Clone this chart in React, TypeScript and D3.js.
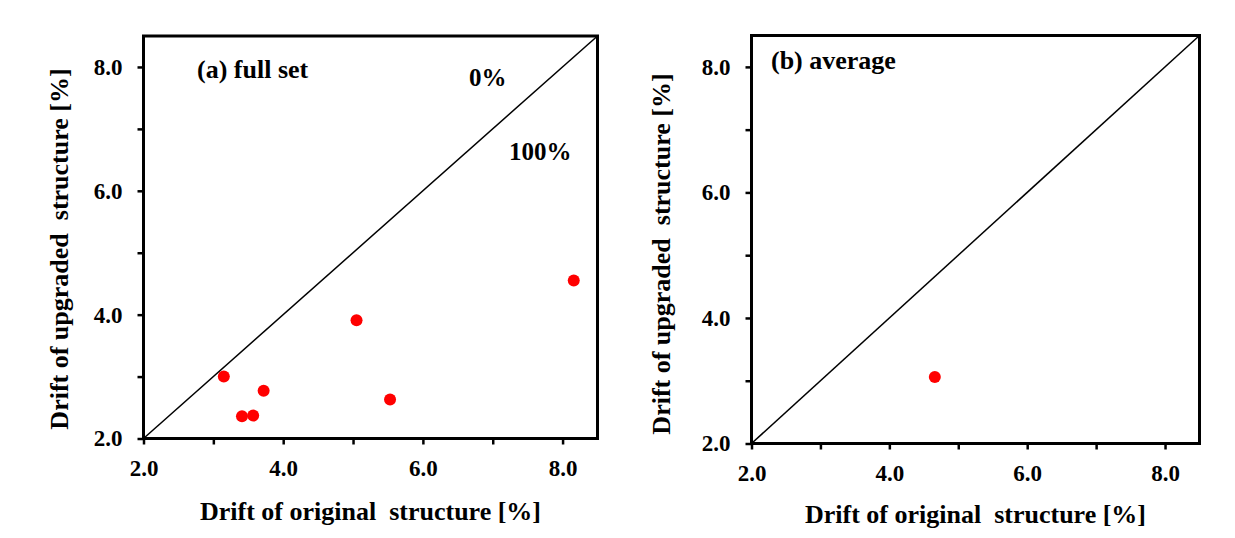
import * as React from "react";
import * as d3 from "d3";

// panel (a): every case, panel (b): their average
const fullSetOriginal = [3.15, 3.41, 3.57, 3.72, 5.05, 5.53, 8.16];
const fullSetUpgraded = [3.0, 2.36, 2.37, 2.77, 3.91, 2.63, 4.55];
const averageOriginal = [4.66];
const averageUpgraded = [3.06];

const axisDomain = [2, 8.5];
const tickValues = [2, 3, 4, 5, 6, 7, 8];
const majorTicks = [2, 4, 6, 8];

const xTitle = "Drift of original  structure [%]";
const yTitle = "Drift of upgraded  structure [%]";

const FONT = "'Liberation Serif', 'Times New Roman', serif";

type Panel = {
  label: string;
  labelX: number;
  labelY: number;
  xs: number[];
  ys: number[];
  left: number;
  right: number;
  top: number;
  bottom: number;
  yTitleX: number;
  yTitleY: number;
  xTitleY: number;
  notes: { text: string; x: number; y: number }[];
};

const panels: Panel[] = [
  {
    label: "(a) full set",
    labelX: 197, labelY: 78,
    xs: fullSetOriginal,
    ys: fullSetUpgraded,
    left: 143.5, right: 597.5, top: 36, bottom: 438.5,
    yTitleX: 68, yTitleY: 249, xTitleY: 520,
    notes: [
      { text: "0%", x: 469, y: 86 },
      { text: "100%", x: 509, y: 160 },
    ],
  },
  {
    label: "(b) average",
    labelX: 771, labelY: 69,
    xs: averageOriginal,
    ys: averageUpgraded,
    left: 751.5, right: 1199.5, top: 35.5, bottom: 443.5,
    yTitleX: 670, yTitleY: 254, xTitleY: 523,
    notes: [],
  },
];

const Scatter = ({ p }: { p: Panel }) => {
  const xRef = React.useRef<SVGGElement>(null);
  const yRef = React.useRef<SVGGElement>(null);

  const x = d3.scaleLinear().domain(axisDomain).range([p.left, p.right]);
  const y = d3.scaleLinear().domain(axisDomain).range([p.bottom, p.top]);
  const fmt = (d: d3.NumberValue) =>
    majorTicks.includes(+d) ? d3.format(".1f")(d) : "";

  React.useEffect(() => {
    const xAxis = d3.axisBottom(x).tickValues(tickValues).tickFormat(fmt)
      .tickSize(6).tickPadding(15);
    const yAxis = d3.axisLeft(y).tickValues(tickValues).tickFormat(fmt)
      .tickSize(6).tickPadding(15);
    for (const [ref, axis] of [[xRef, xAxis], [yRef, yAxis]] as const) {
      const g = d3.select(ref.current!);
      g.call(axis as any);
      g.select(".domain").remove();
      g.selectAll("line").attr("stroke", "#000").attr("stroke-width", 2.5);
      g.selectAll("text")
        .attr("fill", "#000")
        .style("font-family", FONT)
        .style("font-weight", "bold")
        .style("font-size", "23px");
    }
  }, []);

  const pts = p.xs.map((v, i) => ({ x: v, y: p.ys[i] }));

  return (
    <g>
      <g ref={xRef} transform={`translate(0,${p.bottom})`} />
      <g ref={yRef} transform={`translate(${p.left},0)`} />
      <line
        x1={x(axisDomain[0])} y1={y(axisDomain[0])}
        x2={x(axisDomain[1])} y2={y(axisDomain[1])}
        stroke="#000" strokeWidth={1.5}
      />
      {pts.map((d, i) => (
        <circle key={i} cx={x(d.x)} cy={y(d.y)} r={6} fill="#ff0000" />
      ))}
      <rect
        x={p.left} y={p.top}
        width={p.right - p.left} height={p.bottom - p.top}
        fill="none" stroke="#000" strokeWidth={3}
      />
      <g fontFamily={FONT} fontWeight="bold" fill="#000">
        <text x={p.labelX} y={p.labelY} fontSize={26} style={{ whiteSpace: "pre" }}>
          {p.label}
        </text>
        {p.notes.map((n) => (
          <text key={n.text} x={n.x} y={n.y} fontSize={25}>{n.text}</text>
        ))}
        <text
          x={(p.left + p.right) / 2} y={p.xTitleY}
          textAnchor="middle" fontSize={26} style={{ whiteSpace: "pre" }}
        >
          {xTitle}
        </text>
        <text
          transform={`translate(${p.yTitleX},${p.yTitleY}) rotate(-90)`}
          textAnchor="middle" fontSize={26} style={{ whiteSpace: "pre" }}
        >
          {yTitle}
        </text>
      </g>
    </g>
  );
};

export default function App() {
  return (
    <svg
      width={1235}
      height={538}
      style={{ position: "absolute", left: 0, top: 0, background: "#fff" }}
    >
      {panels.map((p) => (
        <Scatter key={p.label} p={p} />
      ))}
    </svg>
  );
}
